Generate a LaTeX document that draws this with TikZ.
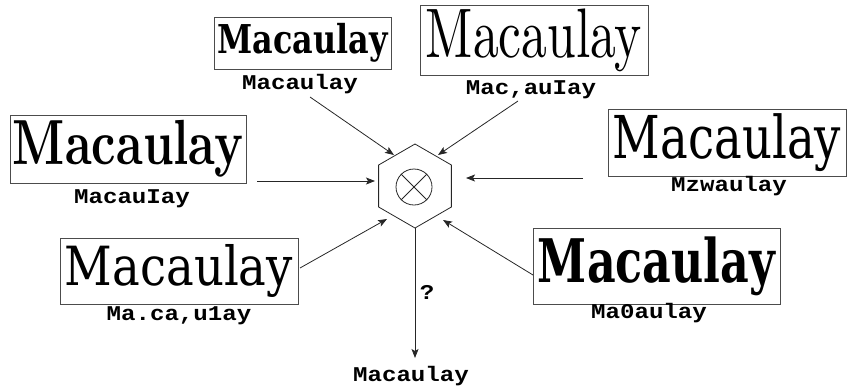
\documentclass[tikz,border=0pt]{standalone}
\usepackage{fontspec}
\usepackage{graphicx}
\usetikzlibrary{shapes.geometric,arrows.meta}

% OCR readings in bold Courier-like type; scanned words in serif faces of varying weight
\newfontfamily\labfont[FakeStretch=1.15]{Liberation Mono}
\newfontfamily\slabserif{DejaVu Serif}
\newcommand{\wordserif}{\rmfamily}

\tikzset{
  wordbox/.style={draw=black!70, line width=0.8pt, inner sep=0pt, outer sep=0pt},
  ocr/.style={font=\labfont\bfseries\fontsize{21pt}{21pt}\selectfont, anchor=base, inner sep=0pt},
  feed/.style={draw=black!85, line width=0.8pt, -{Stealth[length=9pt,width=7pt,inset=2pt]}},
  combiner/.style={draw=black!85, line width=0.8pt, regular polygon, regular polygon sides=6,
    shape border rotate=30, minimum size=84pt, inner sep=0pt, outer sep=0pt},
}

\begin{document}
\begin{tikzpicture}[x=1pt,y=-1pt]
\useasboundingbox (0,0) rectangle (850,389);

% scanned word images
\node[wordbox, minimum width=177pt, minimum height=52pt] (b1) at (302.5,43)
  {\resizebox*{170pt}{39pt}{\slabserif\bfseries Macaulay}};
\node[wordbox, minimum width=228pt, minimum height=70pt] (b2) at (534,40)
  {\resizebox*{216pt}{63pt}{\wordserif Macaulay}};
\node[wordbox, minimum width=236pt, minimum height=68pt] (b3) at (128,149)
  {\resizebox*{230pt}{57pt}{\wordserif\bfseries Macaulay}};
\node[wordbox, minimum width=238pt, minimum height=67pt] (b4) at (727,142.5)
  {\resizebox*{228pt}{58pt}{\slabserif Macaulay}};
\node[wordbox, minimum width=238pt, minimum height=66pt] (b5) at (179,271)
  {\resizebox*{228pt}{53pt}{\slabserif Macaulay}};
\node[wordbox, minimum width=247pt, minimum height=76pt] (b6) at (656.5,266)
  {\resizebox*{237pt}{59pt}{\slabserif\bfseries Macaulay}};

% OCR outputs of each engine
\node[ocr] (l1) at (300,89) {Macaulay};
\node[ocr] (l2) at (531,94) {Mac,auIay};
\node[ocr] (l3) at (132,203) {MacauIay};
\node[ocr] (l4) at (729,191) {Mzwaulay};
\node[ocr] (l5) at (179,320) {Ma.ca,u1ay};
\node[ocr] (l6) at (649,318) {Ma0aulay};

% combination unit
\node[combiner] (hx) at (415,186) {};
\node[draw=black!85, line width=0.8pt, circle, minimum size=36pt, inner sep=0pt] (mx) at (414,187) {};
\draw[black!85, line width=0.8pt] (mx.45) -- (mx.225) (mx.135) -- (mx.315);

% arrow ends
\coordinate (t1) at (310,97);   \coordinate (h1) at (394,155);
\coordinate (t2) at (518,101);  \coordinate (h2) at (438,155);
\coordinate (t3) at (257,181);  \coordinate (h3) at (375,181);
\coordinate (t4) at (583,178);  \coordinate (h4) at (466,178);
\coordinate (t5) at (300,268);  \coordinate (h5) at (387,219);
\coordinate (t6) at (533,275);  \coordinate (h6) at (443,220);
\coordinate (h7) at (415,358);

\draw[feed] (t1) -- (h1);
\draw[feed] (t2) -- (h2);
\draw[feed] (t3) -- (h3);
\draw[feed] (t4) -- (h4);
\draw[feed] (t5) -- (h5);
\draw[feed] (t6) -- (h6);
\draw[feed] (hx.south) -- (h7);

\node[ocr] (q) at (427,299) {?};
\node[ocr] (out) at (411,381) {Macaulay};
\end{tikzpicture}
\end{document}
